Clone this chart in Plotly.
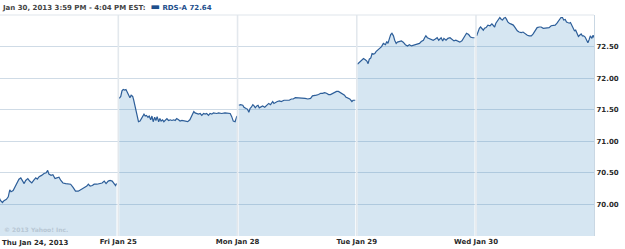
import plotly.graph_objects as go

# ---- data (minutes since 9:30 open, price) ----
day_labels = ["Thu Jan 24, 2013", "Fri Jan 25", "Mon Jan 28", "Tue Jan 29", "Wed Jan 30"]
session_minutes = 390

thu_min = [0,5,11,16,24,30,35,39,46,52,60,65,71,76,82,87,94,100,107,113,120,125,131,139,147,154,159,163,170,176,
           183,189,196,202,209,218,226,234,242,250,259,267,274,281,287,292,298,305,311,320,329,337,344,350,357,363,370,376,381,384]
thu_px = [70.11,70.06,70.03,70.06,70.08,70.12,70.23,70.20,70.22,70.27,70.34,70.40,70.42,70.37,70.33,70.38,70.41,70.37,70.34,70.38,
          70.42,70.40,70.44,70.46,70.49,70.50,70.54,70.48,70.46,70.47,70.41,70.42,70.43,70.38,70.34,70.33,70.33,70.32,70.27,70.21,
          70.21,70.23,70.25,70.27,70.29,70.32,70.29,70.30,70.32,70.32,70.33,70.34,70.37,70.33,70.37,70.38,70.37,70.33,70.30,70.33]

fri_min = [3,8,12,16,21,25,29,34,38,42,47,50,53,58,62,66,71,75,79,84,88,92,97,101,106,110,114,119,123,127,132,136,140,145,149,153,
           159,164,170,175,181,186,191,197,202,208,214,221,227,234,238,243,247,251,257,262,268,273,279,284,289,295,300,306,311,317,
           322,328,338,349,360,366,371,376,382,385,388]
fri_px = [71.68,71.71,71.80,71.82,71.81,71.82,71.78,71.71,71.69,71.73,71.71,71.66,71.59,71.44,71.36,71.31,71.32,71.36,71.39,71.43,
          71.40,71.41,71.38,71.40,71.34,71.40,71.31,71.38,71.33,71.39,71.31,71.36,71.32,71.34,71.31,71.33,71.36,71.33,71.34,71.33,
          71.34,71.33,71.36,71.34,71.32,71.33,71.32,71.31,71.31,71.34,71.39,71.44,71.47,71.45,71.44,71.43,71.44,71.41,71.44,71.43,
          71.44,71.41,71.44,71.43,71.45,71.44,71.44,71.45,71.44,71.45,71.44,71.44,71.39,71.32,71.31,71.36,71.40]

mon_min = [4,10,17,21,28,32,37,41,45,50,54,58,63,67,71,76,82,89,95,102,108,115,119,124,130,137,143,152,161,169,176,182,189,195,
           204,213,221,230,239,245,252,258,265,272,278,285,291,298,304,311,317,324,330,337,343,350,354,361,367,374,378,385]
mon_px = [71.57,71.58,71.57,71.54,71.52,71.51,71.46,71.52,71.54,71.58,71.56,71.53,71.56,71.57,71.53,71.54,71.56,71.54,71.57,71.60,
          71.58,71.63,71.60,71.62,71.63,71.64,71.63,71.65,71.65,71.65,71.67,71.67,71.69,71.69,71.68,71.68,71.68,71.67,71.68,71.72,
          71.72,71.73,71.74,71.76,71.76,71.77,71.76,71.74,71.74,71.76,71.78,71.79,71.79,71.77,71.74,71.73,71.70,71.68,71.67,71.63,
          71.65,71.65]

tue_min = [2,9,15,22,28,33,37,41,46,50,55,59,63,68,74,81,87,94,98,102,107,111,115,120,124,129,133,139,146,152,159,166,172,179,
           185,192,198,205,211,218,222,226,231,237,244,250,257,263,268,272,276,281,285,292,298,305,311,318,324,331,337,344,350,355,
           359,366,372,379,385]
tue_px = [72.22,72.25,72.29,72.31,72.29,72.27,72.23,72.30,72.32,72.39,72.38,72.39,72.42,72.44,72.47,72.50,72.55,72.53,72.58,72.55,
          72.63,72.69,72.71,72.67,72.60,72.55,72.57,72.58,72.59,72.57,72.53,72.51,72.53,72.51,72.52,72.53,72.55,72.55,72.58,72.60,
          72.64,72.67,72.64,72.63,72.62,72.60,72.62,72.64,72.60,72.63,72.64,72.59,72.63,72.60,72.63,72.64,72.62,72.59,72.60,72.58,
          72.57,72.59,72.63,72.68,72.71,72.69,72.65,72.64,72.64]

wed_min = [2,6,11,15,20,24,28,33,39,46,52,57,61,65,70,74,78,83,87,91,96,100,104,109,113,117,122,128,135,141,148,154,161,168,174,
           181,187,194,200,207,213,220,226,233,239,246,252,259,265,270,274,278,283,287,292,296,300,305,309,313,318,322,326,331,335,
           339,344,348,352,357,361,366,370,374,379,383,387]
wed_px = [72.67,72.73,72.79,72.81,72.79,72.76,72.79,72.80,72.84,72.83,72.86,72.83,72.81,72.87,72.91,72.95,72.96,72.93,72.92,72.95,
          72.96,72.93,72.89,72.87,72.86,72.84,72.84,72.80,72.75,72.73,72.72,72.73,72.70,72.68,72.67,72.67,72.70,72.76,72.80,72.81,
          72.81,72.79,72.79,72.80,72.80,72.83,72.83,72.84,72.87,72.91,72.95,72.96,72.96,72.92,72.93,72.89,72.88,72.87,72.88,72.83,
          72.79,72.75,72.76,72.70,72.66,72.68,72.70,72.67,72.67,72.65,72.60,72.56,72.61,72.67,72.63,72.68,72.64]

y_ticks = [70.0, 70.5, 71.0, 71.5, 72.0, 72.5]
header_text = "Jan 30, 2013 3:59 PM - 4:04 PM EST:"
series_name = "RDS-A"
last_price = wed_px[-1]

days = [(thu_min, thu_px), (fri_min, fri_px), (mon_min, mon_px), (tue_min, tue_px), (wed_min, wed_px)]

LINE = "#2d5e99"
FONT = "DejaVu Sans"
TXT = dict(family=FONT, size=7, color="#2a2a2a", weight="bold")

fig = go.Figure()
for i, (mins, px) in enumerate(days):
    xs = [i * session_minutes + m for m in mins]
    fig.add_trace(go.Scatter(
        x=xs, y=px, mode="lines",
        line=dict(color=LINE, width=1.2),
        fill="tozeroy", fillcolor="rgba(50,130,190,0.2)",
        hoverinfo="skip", showlegend=False,
    ))

last_x = 4 * session_minutes + wed_min[-1]
fig.add_trace(go.Scatter(x=[last_x], y=[last_price], mode="markers",
                         marker=dict(color="#1f4e85", size=6), cliponaxis=False,
                         showlegend=False, hoverinfo="skip"))

tickvals = [i * session_minutes for i in range(1, len(day_labels))]

shapes = []
for tv in tickvals:
    shapes.append(dict(type="line", xref="x", yref="paper", x0=tv, x1=tv, y0=0, y1=1,
                       line=dict(color="#e3e8ed", width=1.6), layer="above"))
shapes.append(dict(type="line", xref="paper", yref="paper", x0=0, x1=1, y0=1, y1=1,
                   line=dict(color="#dfe5eb", width=1.2), layer="above"))

header = (f"{header_text}  <span style='color:#1e4f8c'><span style='font-size:10px'>▬</span> "
          f"{series_name} {last_price:.2f}</span>")

annotations = [
    dict(text=header, xref="paper", yref="paper", x=0, y=1 + 8/221, xanchor="left", yanchor="middle",
         showarrow=False, font=dict(family=FONT, size=7, color="#444444", weight="bold")),
    dict(text=day_labels[0], xref="paper", yref="paper", x=0, y=-7/221, xanchor="left", yanchor="middle",
         showarrow=False, font=TXT),
    dict(text="© 2013 Yahoo! Inc.", xref="paper", yref="paper", x=2/594.3, y=7/221, xanchor="left",
         yanchor="middle", showarrow=False, font=dict(family=FONT, size=6, color="#b8c7d4")),
]

fig.update_layout(
    width=625, height=249,
    margin=dict(l=0, r=31, t=15, b=13, pad=0),
    paper_bgcolor="white", plot_bgcolor="white",
    font=TXT,
    shapes=shapes, annotations=annotations,
    xaxis=dict(range=[3, 1946], tickvals=tickvals, ticktext=day_labels[1:], showgrid=False,
               zeroline=False, showline=False, ticks="", automargin=False, tickfont=TXT),
    yaxis=dict(range=[69.5, 73.0], side="right", tickvals=y_ticks, tickformat=".2f",
               showgrid=True, gridcolor="#cfdbe6", gridwidth=1, zeroline=False,
               showline=True, linecolor="#c9d7e3", linewidth=1.2, ticks="", automargin=False,
               tickfont=TXT),
)

fig.write_html("out.html")
